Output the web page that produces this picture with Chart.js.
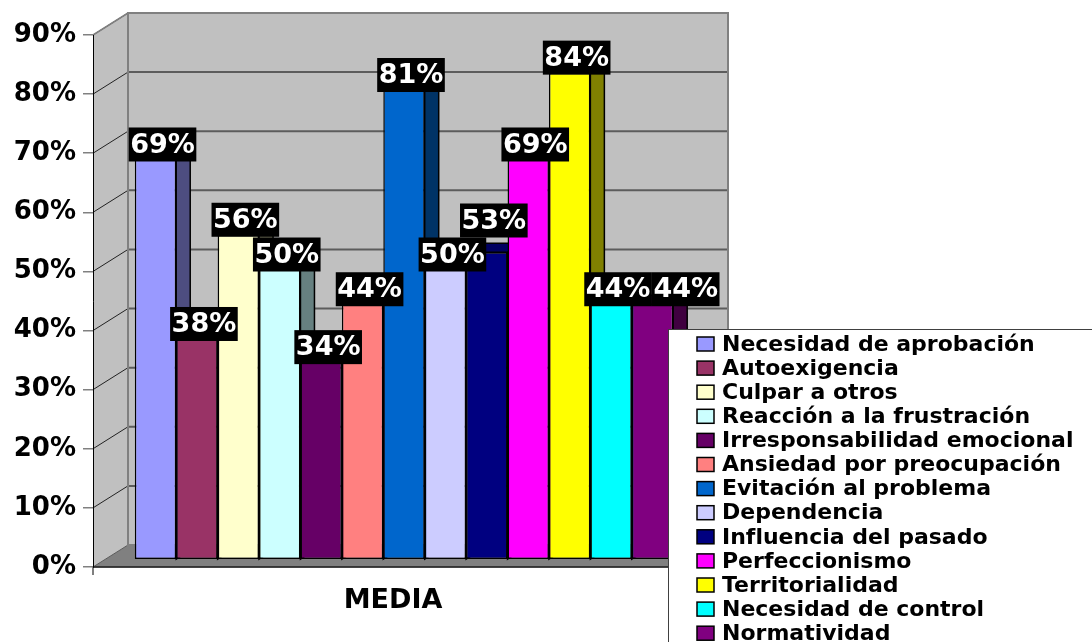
<!DOCTYPE html>
<html lang="es">
<head>
<meta charset="utf-8">
<title>MEDIA</title>
<script src="https://cdn.jsdelivr.net/npm/chart.js@4.4.1/dist/chart.umd.min.js"></script>
<style>
  html, body { margin: 0; padding: 0; background: #fff; overflow: hidden; }
  #wrap { width: 1092px; height: 642px; }
</style>
</head>
<body>
<div id="wrap"><canvas id="chart" width="1092" height="642"></canvas></div>
<script>
// Data
const categories = ['MEDIA'];
const seriesNames = [
  'Necesidad de aprobación', 'Autoexigencia', 'Culpar a otros',
  'Reacción a la frustración', 'Irresponsabilidad emocional',
  'Ansiedad por preocupación', 'Evitación al problema', 'Dependencia',
  'Influencia del pasado', 'Perfeccionismo', 'Territorialidad',
  'Necesidad de control', 'Normatividad'
];
const seriesValues = [0.69, 0.38, 0.56, 0.50, 0.34, 0.44, 0.81, 0.50, 0.53, 0.69, 0.84, 0.44, 0.44];
const seriesColors = [
  '#9999FF', '#993366', '#FFFFCC', '#CCFFFF', '#660066', '#FF8080', '#0066CC',
  '#CCCCFF', '#000080', '#FF00FF', '#FFFF00', '#00FFFF', '#800080'
];
const yTickLabels = ['0%', '10%', '20%', '30%', '40%', '50%', '60%', '70%', '80%', '90%'];

const FONT = "'DejaVu Sans', 'Liberation Sans', sans-serif";

// 3D look: wall depth and bar depth (pixels)
const WALL_DX = 35, WALL_DY = 22;
const BAR_DX = 14, BAR_DY = 9;

function shade(hex, f) {
  const n = parseInt(hex.slice(1), 16);
  const r = Math.round(((n >> 16) & 255) * f);
  const g = Math.round(((n >> 8) & 255) * f);
  const b = Math.round((n & 255) * f);
  return `rgb(${r},${g},${b})`;
}

function poly(ctx, pts, fill, stroke, lw) {
  ctx.beginPath();
  pts.forEach(([px, py], i) => (i ? ctx.lineTo(px, py) : ctx.moveTo(px, py)));
  ctx.closePath();
  if (fill) { ctx.fillStyle = fill; ctx.fill(); }
  if (stroke) { ctx.strokeStyle = stroke; ctx.lineWidth = lw || 1; ctx.stroke(); }
}

function line(ctx, x1, y1, x2, y2, color, lw) {
  ctx.beginPath();
  ctx.moveTo(x1, y1);
  ctx.lineTo(x2, y2);
  ctx.strokeStyle = color;
  ctx.lineWidth = lw;
  ctx.stroke();
}

// Walls, floor and gridlines behind the bars
const wallsPlugin = {
  id: 'walls',
  beforeDraw(chart) {
    const { ctx, chartArea: ca, scales: { y } } = chart;
    const L = ca.left, R = ca.right - 22;
    const yT = y.getPixelForValue(y.max), y0 = y.getPixelForValue(0);
    ctx.save();
    // left side wall
    poly(ctx, [[L, yT], [L + WALL_DX, yT - WALL_DY], [L + WALL_DX, y0 - WALL_DY], [L, y0]], '#c0c0c0');
    // back wall
    ctx.fillStyle = '#c0c0c0';
    ctx.fillRect(L + WALL_DX, yT - WALL_DY, R - L, y0 - yT);
    // gridlines
    y.ticks.forEach(t => {
      const p = y.getPixelForValue(t.value);
      if (t.value > 0 && t.value < y.max - 1e-9) {
        line(ctx, L + WALL_DX, p - WALL_DY, R + WALL_DX, p - WALL_DY, '#5c5c5c', 2);
      }
      if (t.value > 0) line(ctx, L, p, L + WALL_DX, p - WALL_DY, '#222222', 1);
    });
    // floor
    poly(ctx, [[L, y0], [L + WALL_DX, y0 - WALL_DY], [R + WALL_DX, y0 - WALL_DY], [R, y0]], '#808080', '#5a5a5a', 1);
    // outlines
    ctx.strokeStyle = '#808080';
    ctx.lineWidth = 2;
    ctx.strokeRect(L + WALL_DX, yT - WALL_DY, R - L, y0 - yT);
    line(ctx, L, yT, L + WALL_DX, yT - WALL_DY, '#808080', 1.5);
    line(ctx, L, y0, R, y0, '#222222', 1.5);
    line(ctx, L, y0, L, y0 + 8, '#000000', 1);
    ctx.restore();
  }
};

// Side and top faces of each bar, drawn left to right before the fronts
const barFacesPlugin = {
  id: 'barFaces',
  beforeDatasetsDraw(chart) {
    const { ctx } = chart;
    ctx.save();
    chart.data.datasets.forEach((ds, i) => {
      const bar = chart.getDatasetMeta(i).data[0];
      if (!bar) return;
      const { x, y, base, width } = bar.getProps(['x', 'y', 'base', 'width'], true);
      const x0 = x - width / 2, x1 = x + width / 2;
      poly(ctx, [[x1, y], [x1 + BAR_DX, y - BAR_DY], [x1 + BAR_DX, base - BAR_DY], [x1, base]],
        shade(ds.backgroundColor, 0.5), '#000', 1.5);
      poly(ctx, [[x0, y], [x1, y], [x1 + BAR_DX, y - BAR_DY], [x0 + BAR_DX, y - BAR_DY]],
        shade(ds.backgroundColor, 0.75), '#000', 1.5);
    });
    ctx.restore();
  }
};

// Value labels: white bold text on black boxes
const valueLabelsPlugin = {
  id: 'valueLabels',
  afterDatasetsDraw(chart) {
    const { ctx } = chart;
    ctx.save();
    ctx.font = `bold 27px ${FONT}`;
    ctx.textAlign = 'center';
    ctx.textBaseline = 'middle';
    let prev = null;
    chart.data.datasets.forEach((ds, i) => {
      const bar = chart.getDatasetMeta(i).data[0];
      if (!bar) return;
      const v = ds.data[0];
      const text = `${Math.round(v * 100)}%`;
      const w = ctx.measureText(text).width + 3, h = 34;
      let bx = bar.x + BAR_DX / 2 - w / 2;
      let by = bar.y + 2 - h;
      if (prev && bx < prev.x + prev.w && by < prev.y + prev.h && by + h > prev.y) {
        if (v > prev.v) by = prev.y - h;
        else bx = prev.x + prev.w;
      }
      ctx.fillStyle = '#000';
      ctx.fillRect(bx, by, w, h);
      ctx.fillStyle = '#fff';
      ctx.fillText(text, bx + w / 2, by + h / 2 + 1);
      prev = { x: bx, y: by, w, h, v };
    });
    ctx.restore();
  }
};

// Legend box overlapping the lower right corner
const legendBoxPlugin = {
  id: 'legendBox',
  afterDraw(chart) {
    const { ctx } = chart;
    const LX = 668, LY = 329, ROW0 = 344, STEP = 24.1;
    ctx.save();
    ctx.fillStyle = '#fff';
    ctx.fillRect(LX, LY, 500, 400);
    ctx.strokeStyle = '#404040';
    ctx.lineWidth = 1;
    ctx.strokeRect(LX + 0.5, LY + 0.5, 500, 400);
    ctx.font = `bold 22px ${FONT}`;
    ctx.textAlign = 'left';
    ctx.textBaseline = 'middle';
    chart.data.datasets.forEach((ds, i) => {
      const cy = ROW0 + i * STEP;
      ctx.fillStyle = ds.backgroundColor;
      ctx.fillRect(697, cy - 7, 17, 14);
      ctx.strokeStyle = '#000';
      ctx.lineWidth = 1.5;
      ctx.strokeRect(697, cy - 7, 17, 14);
      ctx.fillStyle = '#000';
      ctx.fillText(ds.label, 722, cy + 1);
    });
    ctx.restore();
  }
};

const datasets = seriesNames.map((name, i) => ({
  label: name,
  data: [seriesValues[i]],
  backgroundColor: seriesColors[i],
  borderColor: '#000',
  borderWidth: 1.5,
  borderSkipped: false,
  yAxisID: 'yb',
  categoryPercentage: 0.8656,
  barPercentage: 1
}));

new Chart(document.getElementById('chart'), {
  type: 'bar',
  data: { labels: categories, datasets },
  plugins: [wallsPlugin, barFacesPlugin, valueLabelsPlugin, legendBoxPlugin],
  options: {
    responsive: false,
    animation: false,
    events: [],
    layout: { padding: { top: 35, right: 377, left: 0, bottom: 0 } },
    plugins: {
      legend: { display: false },
      tooltip: { enabled: false }
    },
    scales: {
      x: {
        grid: { display: false, drawTicks: false },
        border: { display: false },
        ticks: {
          color: '#000',
          font: { family: FONT, size: 27, weight: 'bold' },
          padding: 18,
          labelOffset: -11
        },
        afterFit: s => { s.height = 75; }
      },
      y: {
        position: 'left',
        min: 0,
        max: 0.9,
        ticks: {
          stepSize: 0.1,
          color: '#000',
          padding: 7,
          font: { family: FONT, size: 26, weight: 'bold' },
          callback: (v, i) => yTickLabels[i]
        },
        grid: { drawOnChartArea: false, drawTicks: true, tickLength: 10, color: '#808080', lineWidth: 1.5 },
        border: { display: true, color: '#000', width: 1 },
        afterFit: s => { s.width = 93; }
      },
      // bars stand on the floor a little behind the front edge
      yb: { display: false, min: -0.0138, max: 0.905 }
    }
  }
});
</script>
</body>
</html>
